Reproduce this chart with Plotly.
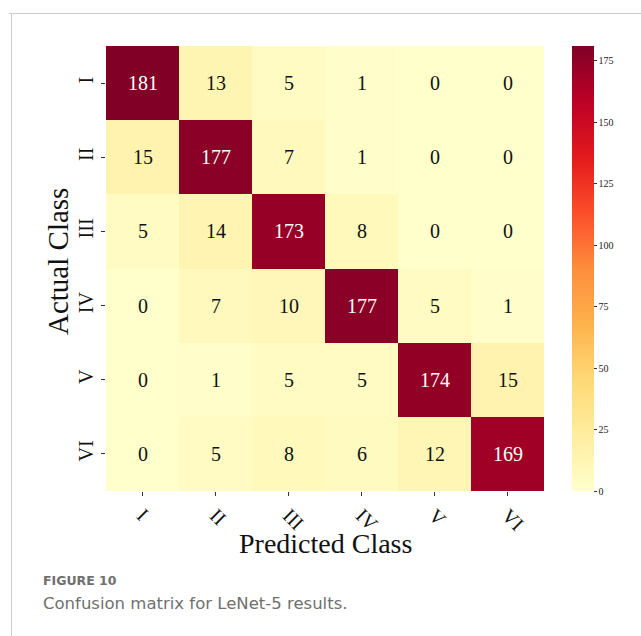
import plotly.graph_objects as go

# Class labels (Roman numerals) and the LeNet-5 confusion matrix
classes = ["I", "II", "III", "IV", "V", "VI"]
row_I = [181, 13, 5, 1, 0, 0]
row_II = [15, 177, 7, 1, 0, 0]
row_III = [5, 14, 173, 8, 0, 0]
row_IV = [0, 7, 10, 177, 5, 1]
row_V = [0, 1, 5, 5, 174, 15]
row_VI = [0, 5, 8, 6, 12, 169]
matrix = [row_I, row_II, row_III, row_IV, row_V, row_VI]
cbar_ticks = [0, 25, 50, 75, 100, 125, 150, 175]

W, H = 641, 636
L, R, T, B = 106, 97, 46, 145
PW, PH = W - L - R, H - T - B


def px_x(x):
    return (x - L) / PW


def px_y(y):
    return (H - B - y) / PH


ylorrd = ["#ffffcc", "#ffeda0", "#fed976", "#feb24c", "#fd8d3c",
          "#fc4e2a", "#e31a1c", "#bd0026", "#800026"]
zmax = max(max(r) for r in matrix)

fig = go.Figure(go.Heatmap(
    z=matrix, x=classes, y=classes,
    colorscale=ylorrd, zmin=0, zmax=zmax,
    xgap=0, ygap=0,
    colorbar=dict(
        x=px_x(572), xanchor="left", xpad=0,
        y=0.5, yanchor="middle", ypad=0,
        len=1, lenmode="fraction", thickness=22,
        outlinewidth=0, ticks="outside", ticklen=3, tickcolor="#333",
        tickvals=cbar_ticks,
        tickfont=dict(family="Liberation Serif", size=10, color="#222"),
    ),
    hoverinfo="skip",
))

annotations = []
for i, row in enumerate(matrix):
    for j, v in enumerate(row):
        annotations.append(dict(
            x=classes[j], y=classes[i], xref="x", yref="y",
            text=str(v), showarrow=False,
            font=dict(family="Liberation Serif", size=20,
                      color="white" if v > 90 else "#111"),
        ))

annotations += [
    dict(x=0.5, y=px_y(543), xref="paper", yref="paper", text="Predicted Class",
         showarrow=False, xanchor="center", yanchor="middle",
         font=dict(family="Liberation Serif", size=28, color="#111")),
    dict(x=px_x(58), y=px_y(262), xref="paper", yref="paper", text="Actual Class",
         showarrow=False, textangle=-90, xanchor="center", yanchor="middle",
         font=dict(family="Liberation Serif", size=29, color="#111")),
    dict(x=px_x(41), y=px_y(580), xref="paper", yref="paper", text="<b>FIGURE 10</b>",
         showarrow=False, xanchor="left", yanchor="middle",
         font=dict(family="DejaVu Sans", size=12.5, color="#707070")),
    dict(x=px_x(41), y=px_y(603), xref="paper", yref="paper",
         text="Confusion matrix for LeNet-5 results.",
         showarrow=False, xanchor="left", yanchor="middle",
         font=dict(family="DejaVu Sans", size=16.5, color="#707070")),
]

shapes = [
    dict(type="line", xref="paper", yref="paper",
         x0=px_x(9), x1=px_x(641), y0=px_y(13.5), y1=px_y(13.5),
         line=dict(color="#cccccc", width=1)),
    dict(type="line", xref="paper", yref="paper",
         x0=px_x(11.5), x1=px_x(11.5), y0=px_y(13.5), y1=px_y(636),
         line=dict(color="#cccccc", width=1)),
]

fig.update_layout(
    width=W, height=H,
    margin=dict(l=L, r=R, t=T, b=B, pad=0),
    paper_bgcolor="white", plot_bgcolor="white",
    annotations=annotations, shapes=shapes,
    xaxis=dict(tickangle=45, ticks="outside", ticklen=4, tickcolor="#333",
               showgrid=False, zeroline=False, showline=False,
               tickfont=dict(family="Liberation Serif", size=20, color="#111")),
    yaxis=dict(autorange="reversed", tickangle=-90, ticks="outside", ticklen=4,
               tickcolor="#333", showgrid=False, zeroline=False, showline=False,
               tickfont=dict(family="Liberation Serif", size=20, color="#111")),
)

fig.write_html("out.html")
